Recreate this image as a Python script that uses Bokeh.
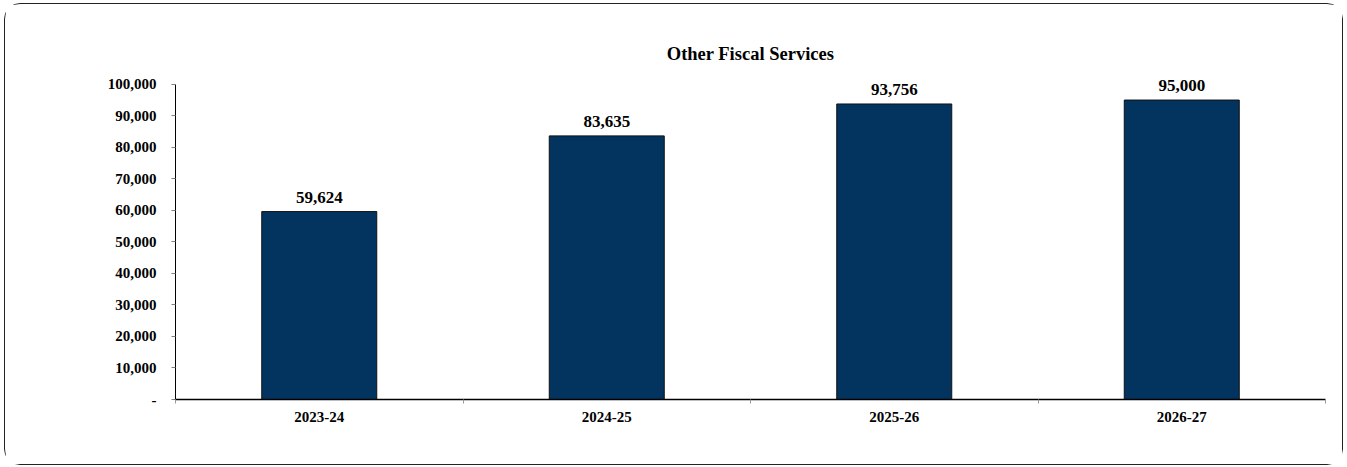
from bokeh.plotting import figure
from bokeh.models import (ColumnDataSource, FixedTicker, CustomJSTickFormatter, Range1d, LabelSet, Label)
from bokeh.embed import file_html
from bokeh.resources import INLINE

categories = ["2023-24", "2024-25", "2025-26", "2026-27"]
values = [59624, 83635, 93756, 95000]
y_ticks = [0, 10000, 20000, 30000, 40000, 50000, 60000, 70000, 80000, 90000, 100000]
title_text = "Other Fiscal Services"

FONT = "Liberation Serif"
BAR = "#02345F"
Y_AXIS_MAX = 100000
Y_END = 115800  # extra headroom so the title and value labels sit inside the frame

xs = [i + 0.5 for i in range(len(categories))]
src = ColumnDataSource(dict(
    x=xs, top=values, cat=categories,
    lbl=[f"{v:,}" for v in values],
))

p = figure(width=1339, height=462, output_backend="svg", toolbar_location=None,
           x_range=Range1d(0, len(categories)), y_range=Range1d(0, Y_END),
           min_border_left=170, min_border_right=19, min_border_top=30, min_border_bottom=67)
p.styles = {"border": "1.5px solid #222", "border-radius": "16px", "box-sizing": "border-box",
            "margin-left": "4px", "margin-top": "3px"}

p.vbar(x="x", top="top", width=0.4, source=src, fill_color=BAR, line_color="#111111", line_width=1)

labels = LabelSet(x="x", y="top", text="lbl", source=src, text_align="center",
                  text_baseline="bottom", y_offset=9, text_font=FONT, text_font_size="17px",
                  text_font_style="bold", text_color="black")
p.add_layout(labels)

title = Label(x=len(categories) / 2, y=Y_END, y_offset=-19, text=title_text,
              text_align="center", text_baseline="middle", text_font=FONT,
              text_font_size="18.5px", text_font_style="bold", text_color="black")
p.add_layout(title)

p.grid.visible = False
p.outline_line_color = None
p.background_fill_color = "white"
p.border_fill_color = "white"

# x axis
xa = p.xaxis[0]
xa.ticker = FixedTicker(ticks=xs, minor_ticks=list(range(len(categories) + 1)))
xa.formatter = CustomJSTickFormatter(args=dict(labels=categories),
                                     code="return labels[Math.floor(tick)];")
xa.major_tick_line_color = None
xa.minor_tick_line_color = "#999999"
xa.minor_tick_out = 4
xa.minor_tick_in = 0
xa.axis_line_color = "black"
xa.axis_line_width = 1.5
xa.major_label_text_font = FONT
xa.major_label_text_font_size = "15px"
xa.major_label_text_font_style = "bold"
xa.major_label_text_color = "black"
xa.major_label_standoff = 6

# y axis
ya = p.yaxis[0]
ya.bounds = (0, Y_AXIS_MAX)
ya.ticker = FixedTicker(ticks=y_ticks, minor_ticks=[])
ya.formatter = CustomJSTickFormatter(code="return tick == 0 ? '-' : tick.toLocaleString('en-US');")
ya.major_tick_line_color = "#808080"
ya.major_tick_out = 4
ya.major_tick_in = 0
ya.axis_line_color = "black"
ya.axis_line_width = 1
ya.major_label_text_font = FONT
ya.major_label_text_font_size = "15px"
ya.major_label_text_font_style = "bold"
ya.major_label_text_color = "black"
ya.major_label_standoff = 15

open("out.html", "w").write(file_html(p, INLINE))
